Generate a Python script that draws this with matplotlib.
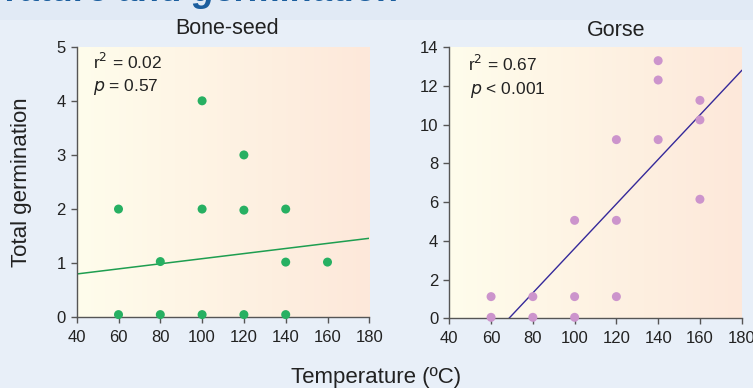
import matplotlib
matplotlib.use('Agg')

import numpy as np
import matplotlib.pyplot as plt
from matplotlib import font_manager
from matplotlib.colors import to_rgb
from matplotlib.patches import Rectangle

plt.rcParams['font.family'] = ['Liberation Sans', 'DejaVu Sans']

# ---------------- DATA ----------------
bone_temp = [60, 60, 80, 80, 100, 100, 100, 120, 120, 120, 140, 140, 140, 160]
bone_germ = [2.0, 0.05, 1.03, 0.05, 4.0, 2.0, 0.05, 3.0, 1.98, 0.05, 2.0, 1.02, 0.05, 1.02]
bone_slope, bone_icpt = 0.00471, 0.612

gorse_temp = [60, 60, 80, 80, 100, 100, 100, 120, 120, 120, 140, 140, 140, 160, 160, 160]
gorse_germ = [1.12, 0.05, 1.12, 0.05, 5.06, 1.12, 0.05, 9.23, 5.06, 1.12,
              13.31, 12.31, 9.23, 11.26, 10.25, 6.15]
gorse_slope, gorse_icpt = 0.1149, -7.88

x_ticks = [40, 60, 80, 100, 120, 140, 160, 180]
bone_yticks = [0, 1, 2, 3, 4, 5]
gorse_yticks = [0, 2, 4, 6, 8, 10, 12, 14]
# --------------------------------------

# narrow face for tick numbers, if there is one
try:
    font_manager.findfont(font_manager.FontProperties(family='Liberation Sans Narrow'),
                          fallback_to_default=False)
    tick_family = 'Liberation Sans Narrow'
    tick_size = 13.5
except ValueError:
    tick_family = 'Liberation Sans'
    tick_size = 12

W, H = 753, 388
fig = plt.figure(figsize=(W / 100, H / 100), dpi=100)
fig.patch.set_facecolor('#E8EFF8')
fig.patches.append(Rectangle((0, 1 - 20 / H), 1, 20 / H, transform=fig.transFigure,
                             facecolor='#E1EAF5', edgecolor='none', zorder=0))

# cut-off slide heading
fig.text(400 / W, 1 - 1 / H, 'Temperature and germination', ha='right', va='baseline',
         fontsize=26, fontweight='bold', style='italic', color='#1B5E9E')


def gradient_bg(ax, c0='#FFFDEC', c1='#FDE8DA'):
    a, b = np.array(to_rgb(c0)), np.array(to_rgb(c1))
    t = np.linspace(0, 1, 256)[None, :, None]
    img = a * (1 - t) + b * t
    ax.imshow(img, extent=[0, 1, 0, 1], transform=ax.transAxes, aspect='auto',
              zorder=0, interpolation='bilinear')


def style_axes(ax, ylim, yticks):
    ax.set_facecolor('none')
    ax.set_xlim(40, 180)
    ax.set_ylim(*ylim)
    ax.set_xticks(x_ticks)
    ax.set_yticks(yticks)
    for s in ['top', 'right']:
        ax.spines[s].set_visible(False)
    for s in ['left', 'bottom']:
        ax.spines[s].set_color('#555555')
        ax.spines[s].set_linewidth(1.0)
    ax.tick_params(direction='out', length=4, width=1, color='#555555',
                   labelsize=tick_size, labelcolor='#222222')
    ax.tick_params(axis='x', pad=5)
    ax.tick_params(axis='y', pad=4)
    for lab in ax.get_xticklabels() + ax.get_yticklabels():
        lab.set_family(tick_family)


# Bone-seed panel
ax1 = fig.add_axes([76.7 / W, 1 - 317.3 / H, 292.6 / W, 270.6 / H])
gradient_bg(ax1)
style_axes(ax1, (0, 5), bone_yticks)
xs = np.array([40, 180])
ax1.plot(xs, bone_icpt + bone_slope * xs, color='#1E9E50', lw=1.1, zorder=2)
ax1.scatter(bone_temp, bone_germ, s=42, color='#27B062', edgecolor='none',
            zorder=3, clip_on=False)
ax1.text(93 / W, 1 - 62 / H, r'r$^2$ = 0.02', transform=fig.transFigure,
         fontsize=12.5, va='center', color='#222222')
ax1.text(93 / W, 1 - 87 / H, r'$\it{p}$ = 0.57', transform=fig.transFigure,
         fontsize=12.5, va='center', color='#222222')

# Gorse panel
ax2 = fig.add_axes([449.3 / W, 1 - 318.3 / H, 292.4 / W, 271 / H])
gradient_bg(ax2)
style_axes(ax2, (0, 14), gorse_yticks)
x0 = -gorse_icpt / gorse_slope
xs2 = np.array([x0, 180])
ax2.plot(xs2, gorse_icpt + gorse_slope * xs2, color='#35299A', lw=1.0, zorder=2)
ax2.scatter(gorse_temp, gorse_germ, s=42, color='#CC94CC', edgecolor='none',
            zorder=3, clip_on=False)
ax2.text(468 / W, 1 - 64 / H, r'r$^2$ = 0.67', transform=fig.transFigure,
         fontsize=12.5, va='center', color='#222222')
ax2.text(470 / W, 1 - 90 / H, r'$\it{p}$ < 0.001', transform=fig.transFigure,
         fontsize=12.5, va='center', color='#222222')

# titles and labels
fig.text(227 / W, 1 - 29 / H, 'Bone-seed', ha='center', va='center',
         fontsize=15.5, color='#222222')
fig.text(616 / W, 1 - 30 / H, 'Gorse', ha='center', va='center',
         fontsize=15.5, color='#222222')
fig.text(22 / W, 1 - 182 / H, 'Total germination', rotation=90, ha='center',
         va='center', fontsize=16, color='#222222')
fig.text(376 / W, 1 - 377 / H, 'Temperature (ºC)', ha='center', va='center',
         fontsize=16, color='#222222')

fig.savefig('out.png', dpi=100, facecolor=fig.get_facecolor())
